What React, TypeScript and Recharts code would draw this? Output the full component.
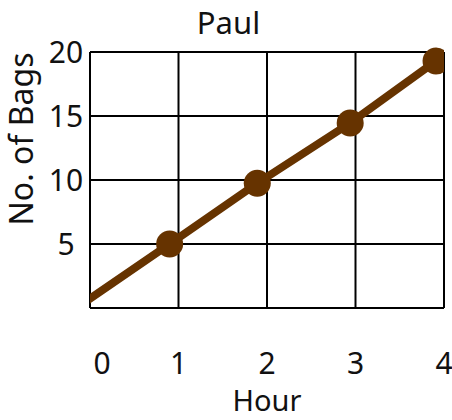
import React from 'react';
import { LineChart, Line, XAxis, YAxis, CartesianGrid, Label } from 'recharts';

// values
const hours = [-0.06, 0.9, 1.89, 2.94, 3.91];
const bags = [0.45, 5, 9.75, 14.45, 19.3];
const xTicks = [0, 1, 2, 3, 4];
const yTicks = [0, 5, 10, 15, 20];

const title = 'Paul';
const xTitle = 'Hour';
const yTitle = 'No. of Bags';

const FONT = '"Noto Sans", sans-serif';
const BROWN = '#663300';

const data = hours.map((h, i) => ({ hour: h, bags: bags[i] }));

const XTick = (props: any) => {
  const { x, y, payload } = props;
  const dx = payload.value === 0 ? 12 : 0;
  return (
    <text x={x + dx} y={y + 58} textAnchor="middle" fontFamily={FONT} fontSize={30} fill="#111">
      {payload.value}
    </text>
  );
};

const YTick = (props: any) => {
  const { y, payload } = props;
  if (payload.value === 0) return <g />;
  return (
    <text x={66} y={y + 10.5} textAnchor="middle" fontFamily={FONT} fontSize={30} fill="#111">
      {payload.value}
    </text>
  );
};

const Dot = (props: any) => {
  const { cx, cy, index } = props;
  if (index === 0) return <g key={`d${index}`} />;
  return <circle key={`d${index}`} cx={cx} cy={cy} r={13.5} fill={BROWN} />;
};

export default function App() {
  return (
    <div style={{ position: 'absolute', left: 0, top: 0, width: 452, height: 420, background: '#fff' }}>
      <div
        style={{
          position: 'absolute',
          left: 0,
          width: 457,
          top: 2,
          textAlign: 'center',
          fontFamily: FONT,
          fontSize: 31,
          lineHeight: '40px',
          color: '#111',
        }}
      >
        {title}
      </div>
      <LineChart width={452} height={420} data={data} margin={{ top: 52, right: 8, bottom: 0, left: 0 }}>
        <CartesianGrid stroke="#000" strokeWidth={2} strokeOpacity={1} />
        <XAxis
          dataKey="hour"
          type="number"
          domain={[0, 4]}
          ticks={xTicks}
          allowDataOverflow
          axisLine={false}
          tickLine={false}
          height={112}
          tick={<XTick />}
          interval={0}
        >
          <Label
            content={() => (
              <text x={267} y={411} textAnchor="middle" fontFamily={FONT} fontSize={29} fill="#111">
                {xTitle}
              </text>
            )}
          />
        </XAxis>
        <YAxis
          type="number"
          domain={[0, 20]}
          ticks={yTicks}
          axisLine={false}
          tickLine={false}
          width={90}
          tick={<YTick />}
          interval={0}
        >
          <Label
            content={() => (
              <text
                x={33}
                y={139}
                transform="rotate(-90, 33, 139)"
                textAnchor="middle"
                fontFamily={FONT}
                fontSize={32}
                fill="#111"
              >
                {yTitle}
              </text>
            )}
          />
        </YAxis>
        <Line
          dataKey="bags"
          type="linear"
          stroke={BROWN}
          strokeWidth={8}
          dot={Dot}
          activeDot={false}
          isAnimationActive={false}
        />
      </LineChart>
    </div>
  );
}
